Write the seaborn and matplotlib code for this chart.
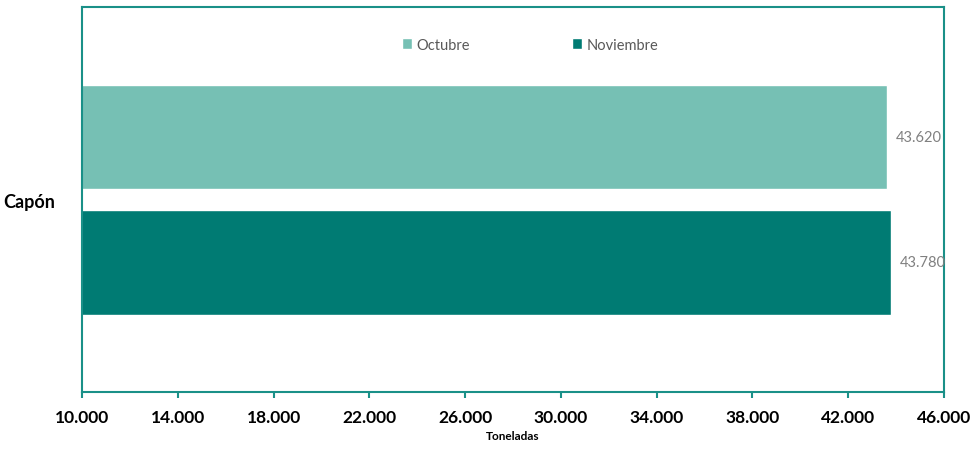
import pandas as pd
import seaborn as sns
import matplotlib.pyplot as plt
from matplotlib.ticker import FuncFormatter

# datos
categorias = ['Capón']
meses = ['Octubre', 'Noviembre']
toneladas = [43620, 43780]
colores = ['#76C0B4', '#007B73']

df = pd.DataFrame({'producto': categorias * len(meses), 'mes': meses, 'toneladas': toneladas})

sns.set_style('ticks')
plt.rcParams['font.family'] = ['Lato', 'DejaVu Sans']

borde = '#1A9088'

fig = plt.figure(figsize=(9.75, 4.52), dpi=100)
ax = fig.add_axes([0.0841, 0.1305, 0.8841, 0.8515])

sns.barplot(data=df, y='producto', x='toneladas', hue='mes', palette=colores,
            orient='h', width=0.8, gap=0.17, saturation=1, ax=ax)

miles = lambda v, p=None: f'{v:,.0f}'.replace(',', '.')

for cont in ax.containers:
    ax.bar_label(cont, labels=[miles(b.get_width()) for b in cont], padding=6.5,
                 fontsize=10.5, color='#808080')

ax.set_xlim(10000, 46000)
ax.set_xticks(range(10000, 46001, 4000))
ax.xaxis.set_major_formatter(FuncFormatter(miles))
ax.set_ylim(0.613, -0.614)

for s in ax.spines.values():
    s.set_visible(True)
    s.set_color(borde)
    s.set_linewidth(1.5)

ax.tick_params(axis='x', bottom=True, direction='out', length=4.5, width=1.5, color=borde,
               pad=8, labelsize=12.5, labelcolor='black')
ax.tick_params(axis='y', left=False, pad=16, labelsize=13, labelcolor='black')
for lbl in ax.get_xticklabels() + ax.get_yticklabels():
    lbl.set_fontweight('bold')

ax.set_xlabel('Toneladas', fontsize=8.5, fontweight='bold', color='black', labelpad=3)
ax.set_ylabel('')

ax.legend(loc='upper center', bbox_to_anchor=(0.52, 0.955), ncol=2, frameon=False,
          fontsize=10.5, labelcolor='#595959', handlelength=0.7, handleheight=0.7,
          handletextpad=0.3, columnspacing=7)

plt.savefig('out.png', dpi=100)
plt.close()
